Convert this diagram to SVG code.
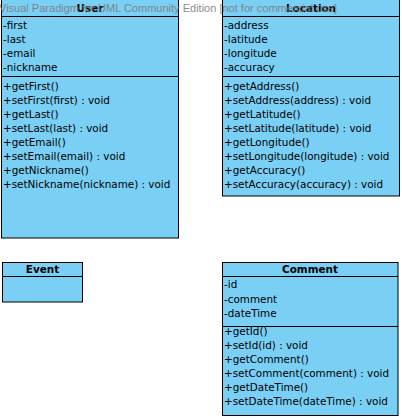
<svg xmlns="http://www.w3.org/2000/svg" width="402" height="418" viewBox="0 0 402 418">
<style>
.box{fill:#7ACFF5;stroke:#000;stroke-width:1}
.sep{stroke:#000;stroke-width:1}
.t{font-family:"DejaVu Sans",sans-serif;font-size:10.4px;fill:#000}
.h{font-family:"DejaVu Sans",sans-serif;font-size:10.4px;font-weight:bold;fill:#000;text-anchor:middle}
.wm{font-family:"Liberation Sans",sans-serif;font-size:11px;fill:#7a7a7a;opacity:0.85}
</style>
<rect width="402" height="418" fill="#fff"/>
<g id="connectors"/>
<g id="User">
<rect class="box" x="1.5" y="-0.5" width="177" height="238.5"/>
<line class="sep" x1="1.5" y1="16.5" x2="178.5" y2="16.5"/>
<line class="sep" x1="1.5" y1="76.5" x2="178.5" y2="76.5"/>
<text class="h" x="90" y="12">User</text>
<text class="t" x="3" y="29">-first</text>
<text class="t" x="3" y="43">-last</text>
<text class="t" x="3" y="57">-email</text>
<text class="t" x="3" y="71">-nickname</text>
<text class="t" x="3" y="90">+getFirst()</text>
<text class="t" x="3" y="104">+setFirst(first) : void</text>
<text class="t" x="3" y="118">+getLast()</text>
<text class="t" x="3" y="132">+setLast(last) : void</text>
<text class="t" x="3" y="146">+getEmail()</text>
<text class="t" x="3" y="160">+setEmail(email) : void</text>
<text class="t" x="3" y="174">+getNickname()</text>
<text class="t" x="3" y="188">+setNickname(nickname) : void</text>
</g>
<g id="Location">
<rect class="box" x="222.5" y="-0.5" width="177" height="196.5"/>
<line class="sep" x1="222.5" y1="16.5" x2="399.5" y2="16.5"/>
<line class="sep" x1="222.5" y1="76.5" x2="399.5" y2="76.5"/>
<text class="h" x="311" y="12">Location</text>
<text class="t" x="224" y="29">-address</text>
<text class="t" x="224" y="43">-latitude</text>
<text class="t" x="224" y="57">-longitude</text>
<text class="t" x="224" y="71">-accuracy</text>
<text class="t" x="224" y="90">+getAddress()</text>
<text class="t" x="224" y="104">+setAddress(address) : void</text>
<text class="t" x="224" y="118">+getLatitude()</text>
<text class="t" x="224" y="132">+setLatitude(latitude) : void</text>
<text class="t" x="224" y="146">+getLongitude()</text>
<text class="t" x="224" y="160">+setLongitude(longitude) : void</text>
<text class="t" x="224" y="174">+getAccuracy()</text>
<text class="t" x="224" y="188">+setAccuracy(accuracy) : void</text>
</g>
<g id="Event">
<rect class="box" x="2.5" y="262.5" width="80" height="39.5"/>
<line class="sep" x1="2.5" y1="276.5" x2="82.5" y2="276.5"/>
<text class="h" x="42.5" y="273">Event</text>
</g>
<g id="Comment">
<rect class="box" x="222.5" y="262.5" width="175.5" height="153"/>
<line class="sep" x1="222.5" y1="276.5" x2="398" y2="276.5"/>
<line class="sep" x1="222.5" y1="326.5" x2="398" y2="326.5"/>
<text class="h" x="310" y="273">Comment</text>
<text class="t" x="224" y="288">-id</text>
<text class="t" x="224" y="302.5">-comment</text>
<text class="t" x="224" y="317">-dateTime</text>
<text class="t" x="224" y="335">+getId()</text>
<text class="t" x="224" y="349">+setId(id) : void</text>
<text class="t" x="224" y="363">+getComment()</text>
<text class="t" x="224" y="377">+setComment(comment) : void</text>
<text class="t" x="224" y="391">+getDateTime()</text>
<text class="t" x="224" y="405">+setDateTime(dateTime) : void</text>
</g>
<text class="wm" x="-1" y="12" textLength="338" lengthAdjust="spacingAndGlyphs">Visual Paradigm for UML Community Edition [not for commercial use]</text>
</svg>
